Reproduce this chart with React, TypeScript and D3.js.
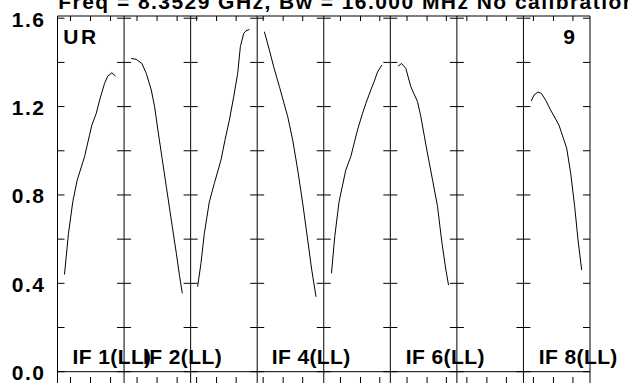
import React from "react";
import * as d3 from "d3";

// ---- data ----
const titleText = "Freq = 8.3529 GHz, Bw = 16.000 MHz No calibration applied";
const panelLabels = ["IF 1(LL)", "IF 2(LL)", "", "IF 4(LL)", "", "IF 6(LL)", "", "IF 8(LL)"];
const cornerLeft = "UR";
const cornerRight = "9";
const yTickValues = [0, 0.2, 0.4, 0.6, 0.8, 1.0, 1.2, 1.4, 1.6];
const yLabelValues = [0, 0.4, 0.8, 1.2, 1.6];

// x positions in each panel are on a 0..100 scale
const xTicksA = [19.5, 49.6, 79.7];
const xTicksB = [9, 39, 68.4];
const xTicksC = [25.1, 55.2, 84.2];
const xTicksD = [15, 45.1, 74.4];
const panelXTicks = [xTicksA, xTicksA, xTicksB, xTicksB, xTicksC, xTicksC, xTicksD, xTicksD];

const if1 = [[10.5,0.44],[16.5,0.626],[23,0.77],[29.6,0.867],[40.6,0.973],[48.1,1.071],[51.6,1.116],[58.2,1.169],[63.2,1.229],[70.7,1.305],[75.6,1.338],[81.7,1.353],[87.2,1.338]];
const if2 = [[10.8,1.418],[18.3,1.414],[26.8,1.395],[33.4,1.35],[40.9,1.275],[45.9,1.199],[50.8,1.094],[56.8,0.973],[63.5,0.837],[71,0.686],[78.5,0.536],[83.5,0.43],[87.5,0.355]];
const if3 = [[10.5,0.385],[15.5,0.49],[20.6,0.626],[28.1,0.769],[35.6,0.852],[45.6,0.958],[51.6,1.048],[58.2,1.139],[64.7,1.244],[70.7,1.35],[74.7,1.471],[79.7,1.531],[83.2,1.543],[88.3,1.549]];
const if4 = [[10.8,1.539],[18.3,1.456],[24.8,1.38],[33.4,1.29],[45.9,1.154],[53.4,1.048],[60.9,0.913],[68.4,0.762],[75.9,0.596],[82,0.46],[88.4,0.339]];
const if5 = [[11.6,0.445],[16.5,0.611],[23,0.769],[33.1,0.913],[40.6,0.973],[50.7,1.094],[58.2,1.169],[63.2,1.214],[70.7,1.275],[75.6,1.312],[80.8,1.357],[87.2,1.388]];
const if6 = [[11.7,1.383],[16.8,1.395],[23.3,1.373],[30.8,1.29],[40.9,1.222],[45.9,1.154],[54.9,1.003],[63.5,0.867],[71,0.747],[77,0.596],[83.5,0.46],[87.5,0.392]];
const if7: number[][] = [];
const if8 = [[11.7,1.225],[15.8,1.252],[21.8,1.266],[26.8,1.26],[33.4,1.229],[40.9,1.184],[53.4,1.116],[65,1.011],[71,0.898],[77,0.747],[82,0.596],[87.5,0.46]];
const series = [if1, if2, if3, if4, if5, if6, if7, if8];

// ---- layout ----
const W = 628, H = 383;
const left = 57.5, right = 590, top = 16, bottom = 371.7;
const labelOffsets = [15, 19, 0, 14.5, 0, 15.5, 0, 15.3];
const FONT = "'Liberation Sans', Arial, Helvetica, sans-serif";
const yLabelLS = 1.5;

export default function App() {
  const panelScale = d3.scaleLinear().domain([0, 8]).range([left, right]);
  const y = d3.scaleLinear().domain([0, 1.61]).range([bottom, top]);
  const panels = d3.range(8);

  return (
    <div style={{ position: "absolute", left: 0, top: 0 }}>
      <svg width={W} height={H} style={{ display: "block", background: "#fff" }}>
        <text x={58.3} y={8.5} fontFamily={FONT} fontWeight="bold" fontSize={21} letterSpacing={1.45} fill="#000">
          {titleText}
        </text>
        {/* frame */}
        <line x1={left} x2={right} y1={top} y2={top} stroke="#000" strokeWidth={1} />
        <line x1={left} x2={right} y1={bottom} y2={bottom} stroke="#000" strokeWidth={1} />
        {panels.concat([8]).map((i) => (
          <line key={"v" + i} x1={panelScale(i)} x2={panelScale(i)} y1={top} y2={H + 5} stroke="#000" strokeWidth={1} />
        ))}
        {/* y ticks */}
        {panels.concat([8]).map((i) =>
          yTickValues.map((v) => {
            const px = panelScale(i);
            const x1 = i === 0 ? px : px - 7;
            const x2 = i === 8 ? px : px + 7;
            return <line key={"yt" + i + "_" + v} x1={x1} x2={x2} y1={y(v)} y2={y(v)} stroke="#000" strokeWidth={1} />;
          })
        )}
        {/* x ticks per panel */}
        {panels.map((i) => {
          const xs = d3.scaleLinear().domain([0, 100]).range([panelScale(i), panelScale(i + 1)]);
          return panelXTicks[i].map((t) => (
            <g key={"xt" + i + "_" + t}>
              <line x1={xs(t)} x2={xs(t)} y1={top} y2={top + 5} stroke="#000" strokeWidth={1} />
              <line x1={xs(t)} x2={xs(t)} y1={377} y2={H + 5} stroke="#000" strokeWidth={1} />
            </g>
          ));
        })}
        {/* y labels */}
        {yLabelValues.map((v) => (
          <text key={"yl" + v} x={44 + yLabelLS} y={y(v) + 8.5} textAnchor="end" fontFamily={FONT} fontWeight="bold" fontSize={21} letterSpacing={yLabelLS} fill="#000">
            {v.toFixed(1)}
          </text>
        ))}
        {/* curves */}
        {panels.map((i) => {
          const xs = d3.scaleLinear().domain([0, 100]).range([panelScale(i), panelScale(i + 1)]);
          const line = d3.line<number[]>().x((d) => xs(d[0])).y((d) => y(d[1]));
          const data = series[i];
          if (!data.length) return null;
          return <path key={"c" + i} d={line(data) || ""} fill="none" stroke="#000" strokeWidth={1} />;
        })}
        {/* panel labels */}
        {panels.map((i) =>
          panelLabels[i] ? (
            <text key={"pl" + i} x={panelScale(i) + labelOffsets[i]} y={363.5} fontFamily={FONT} fontWeight="bold" fontSize={21} letterSpacing={0.4} fill="#000">
              {panelLabels[i]}
            </text>
          ) : null
        )}
        <text x={63.3} y={43.5} fontFamily={FONT} fontWeight="bold" fontSize={21} letterSpacing={2.5} fill="#000">
          {cornerLeft}
        </text>
        <text x={575} y={43.5} textAnchor="end" fontFamily={FONT} fontWeight="bold" fontSize={21} fill="#000">
          {cornerRight}
        </text>
      </svg>
    </div>
  );
}
